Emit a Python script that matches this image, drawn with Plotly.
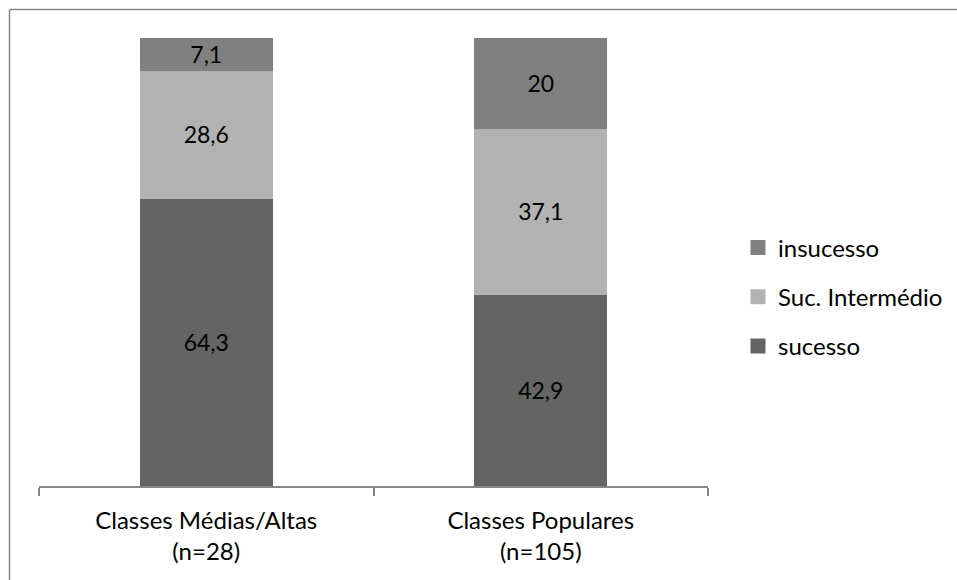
import plotly.graph_objects as go

# Categories and stacked percentages
categories = ["Classes Médias/Altas<br>(n=28)", "Classes Populares<br>(n=105)"]
sucesso = [64.3, 42.9]
intermedio = [28.6, 37.1]
insucesso = [7.1, 20.0]
labels_sucesso = ["64,3", "42,9"]
labels_intermedio = ["28,6", "37,1"]
labels_insucesso = ["7,1", "20"]

# (name, values, labels, colour, legend rank)
series = [
    ("sucesso", sucesso, labels_sucesso, "#646464", 3),
    ("Suc. Intermédio", intermedio, labels_intermedio, "#b2b2b2", 2),
    ("insucesso", insucesso, labels_insucesso, "#808080", 1),
]

FONT = "Lato, 'Open Sans', sans-serif"
FS = 24
W, H = 957, 580
ML, MR, MT, MB = 39, 249, 38, 94

fig = go.Figure()
for name, vals, labs, color, rank in series:
    fig.add_trace(go.Bar(
        x=categories, y=vals, name=name, text=labs,
        marker=dict(color=color, line=dict(width=3, color=color)),
        textposition="inside", insidetextanchor="middle",
        textangle=0, constraintext="none",
        textfont=dict(color="black", size=FS - 1, family=FONT),
        legendgroup=name, legendrank=rank, hoverinfo="skip",
    ))

pw = W - ML - MR
ph = H - MT - MB
border_color = "#878787"
# left and top frame lines of the chart area
bx = (9.5 - ML) / pw
by = 1 + (MT - 9.5) / ph
fig.add_shape(type="line", xref="paper", yref="paper", x0=bx, x1=bx, y0=by, y1=-(H + 10 - MT - ph) / ph,
              line=dict(color=border_color, width=1.5))
fig.add_shape(type="line", xref="paper", yref="paper", x0=bx, x1=(W + 10 - ML) / pw, y0=by, y1=by,
              line=dict(color=border_color, width=1.5))

fig.update_layout(
    width=W, height=H,
    margin=dict(l=ML, r=MR, t=MT, b=MB),
    barmode="stack", bargap=0.611,
    plot_bgcolor="white", paper_bgcolor="white",
    font=dict(family=FONT, size=FS, color="black"),
    showlegend=True,
    legend=dict(
        xref="container", yref="container",
        x=738 / W, y=1 - 297 / H, xanchor="left", yanchor="middle",
        traceorder="grouped", tracegroupgap=15,
        font=dict(size=FS, family=FONT, color="black"),
        itemwidth=30, bgcolor="rgba(0,0,0,0)",
    ),
    xaxis=dict(
        showline=True, linecolor="#868686", linewidth=1.5,
        ticks="outside", tickson="boundaries", ticklen=8, tickcolor="#868686", tickwidth=1.5,
        tickfont=dict(size=FS, family=FONT, color="black"),
        ticklabelstandoff=12,
        showgrid=False,
    ),
    yaxis=dict(range=[0, 100], visible=False, showgrid=False),
)

fig.write_html("out.html")
